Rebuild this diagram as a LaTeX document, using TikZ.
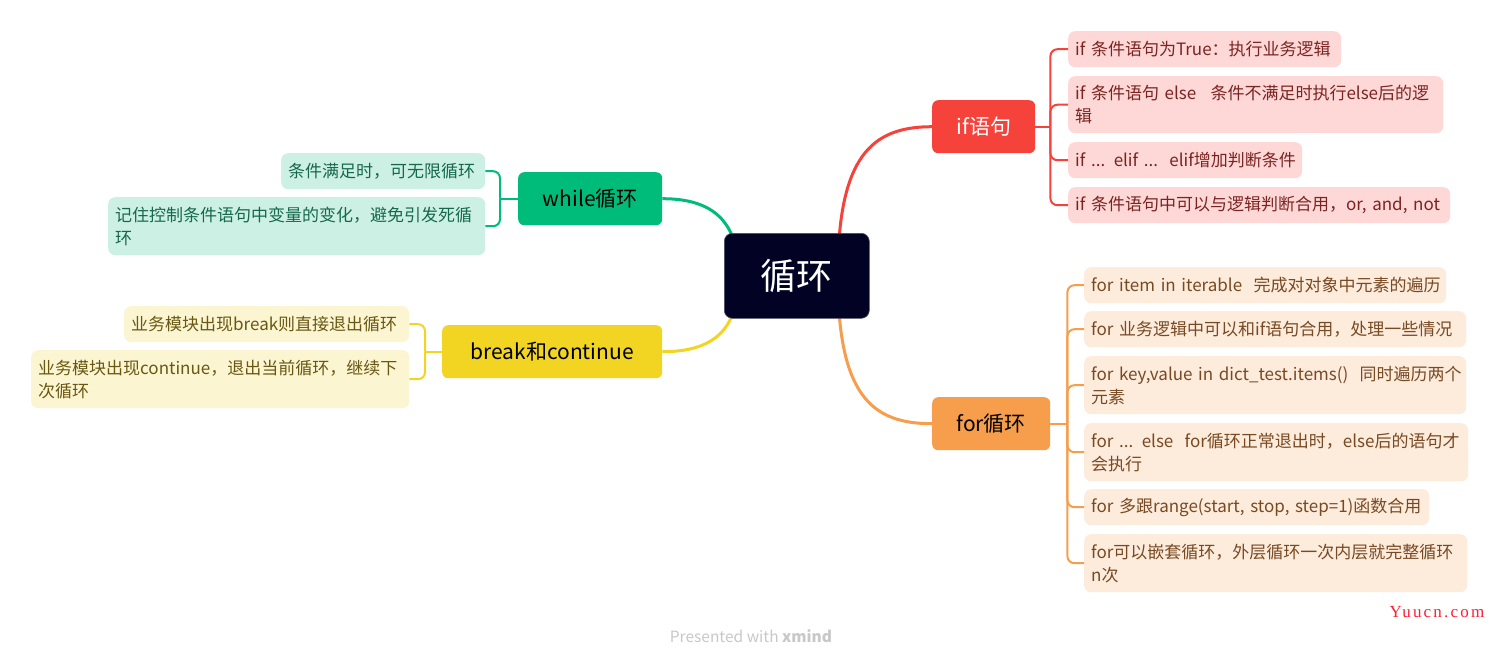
\documentclass[tikz,border=0pt]{standalone}
\usepackage{fontspec}
\setmainfont{Noto Sans CJK SC}
\newfontfamily\wmfont[LetterSpace=13]{Liberation Serif}
\usetikzlibrary{backgrounds}
\definecolor{rootc}{RGB}{2,3,36}
\definecolor{redc}{RGB}{245,67,60}
\definecolor{greenc}{RGB}{0,188,123}
\definecolor{yellowc}{RGB}{242,212,35}
\definecolor{orangec}{RGB}{246,158,76}
\definecolor{ifleafc}{RGB}{254,216,215}
\definecolor{forleafc}{RGB}{253,235,219}
\definecolor{whleafc}{RGB}{204,241,228}
\definecolor{brleafc}{RGB}{252,245,209}
\definecolor{iftext}{RGB}{122,36,34}
\definecolor{fortext}{RGB}{120,74,36}
\definecolor{whtext}{RGB}{22,104,76}
\definecolor{brtext}{RGB}{104,88,20}
\definecolor{wmgray}{RGB}{200,200,200}
\definecolor{yuured}{RGB}{255,30,50}
\tikzset{
  leaf/.style={rectangle, rounded corners=7pt, anchor=north west, inner xsep=7pt, inner ysep=0pt, align=left, font=\fontsize{17}{23}\selectfont},
  ifleaf/.style={leaf, fill=ifleafc, text=iftext},
  forleaf/.style={leaf, fill=forleafc, text=fortext},
  whleaf/.style={leaf, fill=whleafc, text=whtext},
  brleaf/.style={leaf, fill=brleafc, text=brtext},
  branch/.style={rectangle, rounded corners=6pt, anchor=north west, inner sep=0pt, minimum height=53pt, font=\fontsize{21}{25}\selectfont},
  mainline/.style={line width=3pt},
  subline/.style={line width=2pt},
}
\begin{document}
\begin{tikzpicture}[x=1pt,y=-1pt]
\useasboundingbox (0,0) rectangle (1500,667);

% root
\node[rectangle, rounded corners=8pt, fill=rootc, draw=rootc!70!white, line width=0.6pt, text=white, anchor=north west, minimum width=145pt, minimum height=85pt, inner sep=0pt, font=\fontsize{36}{40}\selectfont] (root) at (724,233) {循环};

% branches
\node[branch, fill=redc, text=white, minimum width=103pt] (ifn) at (932,100) {if语句};
\node[branch, fill=greenc, text=black, minimum width=144pt] (whn) at (518,172) {while循环};
\node[branch, fill=yellowc, text=black, minimum width=220pt] (brn) at (442,325) {break和continue};
\node[branch, fill=orangec, text=black, minimum width=118pt] (forn) at (932,397) {for循环};

% if leaves
\node[ifleaf, text width=259pt, minimum height=36pt] (if1) at (1068,31) {\mbox{if 条件语句为True：执行业务逻辑}};
\node[ifleaf, text width=361pt, minimum height=57pt] (if2) at (1068,76) {\mbox{if 条件语句 else\enspace\ 条件不满足时执行else后的逻}\\辑};
\node[ifleaf, text width=220pt, minimum height=36pt] (if3) at (1068,142) {\mbox{if ... elif ...\ \ elif增加判断条件}};
\node[ifleaf, text width=368pt, minimum height=36pt] (if4) at (1068,187) {\mbox{if 条件语句中可以与逻辑判断合用，or, and, not}};

% for leaves
\node[forleaf, text width=348pt, minimum height=36pt] (for1) at (1084,267) {\mbox{for item in iterable\ \ 完成对对象中元素的遍历}};
\node[forleaf, text width=368pt, minimum height=36pt] (for2) at (1084,311) {\mbox{for 业务逻辑中可以和if语句合用，处理一些情况}};
\node[forleaf, text width=368pt, minimum height=58pt] (for3) at (1084,356) {\mbox{for key,value in dict\_test.items()\ \ 同时遍历两个}\\元素};
\node[forleaf, text width=370pt, minimum height=58pt] (for4) at (1084,423) {\mbox{for ... else\ \ for循环正常退出时，else后的语句才}\\会执行};
\node[forleaf, text width=331pt, minimum height=36pt] (for5) at (1084,489) {\mbox{for 多跟range(start, stop, step=1)函数合用}};
\node[forleaf, text width=369pt, minimum height=58pt] (for6) at (1084,534) {\mbox{for可以嵌套循环，外层循环一次内层就完整循环}\\n次};

% while leaves
\node[whleaf, text width=190pt, minimum height=36pt] (wh1) at (281,153) {\mbox{条件满足时，可无限循环}};
\node[whleaf, text width=363pt, minimum height=58pt] (wh2) at (108,197) {\mbox{记住控制条件语句中变量的变化，避免引发死循}\\环};

% break leaves
\node[brleaf, text width=271pt, minimum height=36pt] (br1) at (124,306) {\mbox{业务模块出现break则直接退出循环}};
\node[brleaf, text width=364pt, minimum height=58pt] (br2) at (31,350) {\mbox{业务模块出现continue，退出当前循环，继续下}\\次循环};

% watermarks
\node[text=wmgray, font=\fontsize{15.5}{18}\selectfont] (wm) at (751,636) {Presented with \textbf{xmind}};
\node[text=yuured, font=\wmfont\fontsize{17}{20}\selectfont] (yuu) at (1437,612) {Yuucn.com};

\begin{scope}[on background layer]
\fill[white] (0,0) rectangle (1500,667);
% main connectors
\draw[mainline, redc] ([xshift=41pt]root.center) .. controls +(0,-120) and +(-60,0) .. (ifn.west);
\draw[mainline, orangec] ([xshift=41pt]root.center) .. controls +(0,120) and +(-60,0) .. (forn.west);
\draw[mainline, greenc] ([xshift=-58pt]root.center) .. controls +(0,-55) and +(50,0) .. (whn.east);
\draw[mainline, yellowc] ([xshift=-58pt]root.center) .. controls +(0,55) and +(50,0) .. (brn.east);
\end{scope}

% if brackets
\draw[subline, redc] (ifn.east) -- ++(15,0) coordinate (ifj);
\foreach \n in {if1,if2,if3,if4}
  \draw[subline, redc, rounded corners=7pt] (ifj) |- (\n.west);
% for brackets
\draw[subline, orangec] (forn.east) -- ++(17,0) coordinate (forj);
\foreach \n in {for1,for2,for3,for4,for5,for6}
  \draw[subline, orangec, rounded corners=7pt] (forj) |- (\n.west);
% while brackets
\draw[subline, greenc] (whn.west) -- ++(-18,0) coordinate (whj);
\foreach \n in {wh1,wh2}
  \draw[subline, greenc, rounded corners=7pt] (whj) |- (\n.east);
% break brackets
\draw[subline, yellowc] (brn.west) -- ++(-17,0) coordinate (brj);
\foreach \n in {br1,br2}
  \draw[subline, yellowc, rounded corners=7pt] (brj) |- (\n.east);
\end{tikzpicture}
\end{document}
